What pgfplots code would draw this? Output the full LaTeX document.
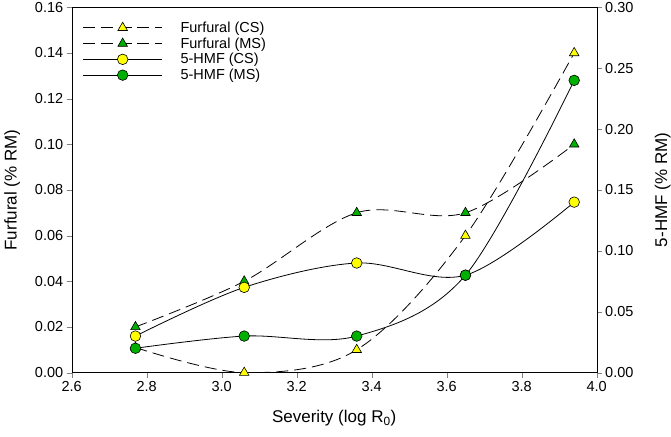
\documentclass[border=0pt]{standalone}
\usepackage{fontspec}
\setmainfont{Liberation Sans}
\usepackage{pgfplots}
\pgfplotsset{compat=1.18}
\definecolor{mgreen}{RGB}{0,176,0}
\definecolor{myellow}{RGB}{255,255,0}
\begin{document}
\begin{tikzpicture}
\pgfplotsset{
  common/.style={
    scale only axis, width=525pt, height=365.3pt,
    xmin=2.6, xmax=4.0,
    tick align=outside, major tick length=5pt,
    /pgf/number format/assume math mode=true,
    ticklabel style={font=\fontsize{14.5}{16}\selectfont},
    label style={font=\fontsize{17}{19}\selectfont},
    every axis plot/.append style={line width=0.8pt, smooth, tension=0.55},
  },
  dashedline/.style={dash pattern=on 12pt off 6pt},
}
\begin{axis}[common,
  ymin=0, ymax=0.16,
  xtick={2.6,2.8,3.0,3.2,3.4,3.6,3.8,4.0},
  ytick={0,0.02,0.04,0.06,0.08,0.10,0.12,0.14,0.16},
  xtick pos=bottom, ytick pos=left,
  xticklabel style={/pgf/number format/.cd,fixed,fixed zerofill,precision=1},
  yticklabel style={/pgf/number format/.cd,fixed,fixed zerofill,precision=2},
  xlabel={Severity (log R\textsubscript{0})},
  ylabel={Furfural (\% RM)},
  xlabel style={yshift=-12pt},
  ylabel style={yshift=8pt},
  legend cell align=left,
  legend style={at={(axis description cs:0.015,0.972)}, anchor=north west, draw=none, fill=none,
    font=\fontsize{14.5}{16}\selectfont, row sep=-0.2pt,
    nodes={inner xsep=3pt}},
  legend image code/.code={\draw[mark repeat=2,mark phase=2] plot coordinates {(0pt,0pt) (39.5pt,0pt) (79pt,0pt)};},
]
\addplot[black, dashedline, mark=triangle*, mark size=5.5pt, mark options={solid, fill=myellow, draw=black, line width=0.6pt}]
  coordinates {(2.77,0.011) (3.06,0.0) (3.36,0.010) (3.65,0.060) (3.94,0.140)};
\addlegendentry{\hspace{15pt}Furfural (CS)}
\addplot[black, dashedline, mark=triangle*, mark size=5.5pt, mark options={solid, fill=mgreen, draw=black, line width=0.6pt}]
  coordinates {(2.77,0.020) (3.06,0.040) (3.36,0.070) (3.65,0.070) (3.94,0.100)};
\addlegendentry{\hspace{15pt}Furfural (MS)}
\addlegendimage{black, line width=0.8pt, mark=*, mark size=5.3pt, mark options={fill=myellow, draw=black, line width=0.6pt}}
\addlegendentry{\hspace{15pt}5-HMF (CS)}
\addlegendimage{black, line width=0.8pt, mark=*, mark size=5.3pt, mark options={fill=mgreen, draw=black, line width=0.6pt}}
\addlegendentry{\hspace{15pt}5-HMF (MS)}
\end{axis}
\begin{axis}[common,
  ymin=0, ymax=0.30,
  axis x line=none, axis y line*=right,
  ytick={0,0.05,0.10,0.15,0.20,0.25,0.30},
  yticklabel style={/pgf/number format/.cd,fixed,fixed zerofill,precision=2},
  ylabel={5-HMF (\% RM)},
  ylabel style={at={(axis description cs:1.1257,0.5)}, anchor=center, rotate=0},
]
\addplot[black, mark=*, mark size=5.3pt, mark options={fill=myellow, draw=black, line width=0.6pt}]
  coordinates {(2.77,0.030) (3.06,0.070) (3.36,0.090) (3.65,0.080) (3.94,0.140)};
\addplot[black, mark=*, mark size=5.3pt, mark options={fill=mgreen, draw=black, line width=0.6pt}]
  coordinates {(2.77,0.020) (3.06,0.030) (3.36,0.030) (3.65,0.080) (3.94,0.240)};
\end{axis}
\pgfresetboundingbox
\path[use as bounding box] (-71.7pt,-64.3pt) rectangle (599.3pt,372.6pt);
\end{tikzpicture}
\end{document}
